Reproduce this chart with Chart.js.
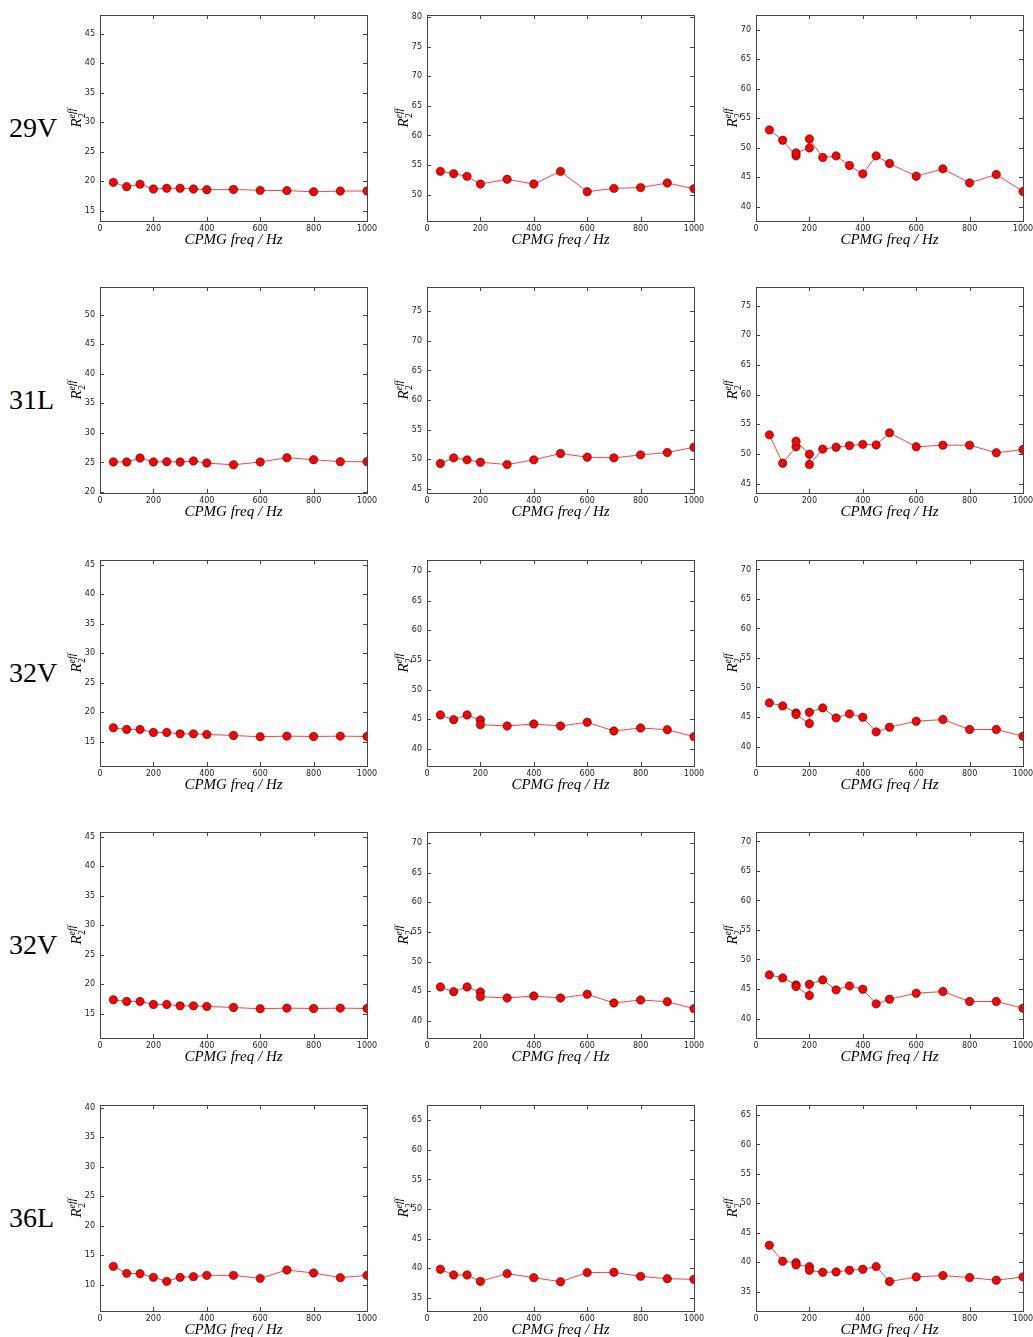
<!DOCTYPE html>
<html>
<head>
<meta charset="utf-8">
<script src="https://cdn.jsdelivr.net/npm/chart.js@4"></script>
<style>
  html, body { margin: 0; padding: 0; background: #fff; }
  #fig { position: relative; width: 1033px; height: 1337px; overflow: hidden; }
  #fig canvas { position: absolute; }
  .rowlab { position: absolute; left: 9px; font-family: "Liberation Serif", serif; font-size: 28px; color: #000; line-height: 1; }
</style>
</head>
<body>
<div id="fig"></div>
<script>
// x values (CPMG frequency, Hz)
const freqA = [50, 100, 150, 200, 250, 300, 350, 400, 500, 600, 700, 800, 900, 1000];
const freqB = [50, 100, 150, 200, 300, 400, 500, 600, 700, 800, 900, 1000];
const freqC = [50, 100, 150, 150, 200, 200, 250, 300, 350, 400, 450, 500, 600, 700, 800, 900, 1000];
const freqD = [50, 100, 150, 200, 200, 300, 400, 500, 600, 700, 800, 900, 1000];

// R2eff values
const r29V_1 = [19.8, 19.07, 19.5, 18.67, 18.8, 18.8, 18.67, 18.56, 18.6, 18.45, 18.4, 18.2, 18.33, 18.33];
const r29V_2 = [53.94, 53.55, 53.1, 51.8, 52.6, 51.8, 53.94, 50.5, 51.07, 51.2, 51.97, 51.0];
const r29V_3 = [53.03, 51.28, 48.63, 49.14, 49.98, 51.5, 48.35, 48.63, 46.99, 45.58, 48.63, 47.33, 45.19, 46.43, 44.06, 45.47, 42.6];

const r31L_1 = [25.08, 25.08, 25.75, 25.08, 25.13, 25.08, 25.25, 24.9, 24.6, 25.08, 25.8, 25.47, 25.13, 25.13];
const r31L_2 = [49.28, 50.23, 49.9, 49.5, 49.1, 49.9, 50.97, 50.35, 50.23, 50.74, 51.13, 52.03];
const r31L_3 = [53.2, 48.43, 51.19, 52.15, 49.95, 48.2, 50.8, 51.13, 51.4, 51.6, 51.5, 53.55, 51.19, 51.47, 51.47, 50.18, 50.74];

const r32V_1 = [17.37, 17.09, 17.09, 16.58, 16.58, 16.35, 16.35, 16.24, 16.07, 15.85, 15.96, 15.9, 15.96, 15.9];
const r32V_2 = [45.7, 44.9, 45.7, 44.85, 44.06, 43.84, 44.17, 43.84, 44.46, 42.99, 43.5, 43.2, 42.03];
const r32V_3 = [47.39, 46.88, 45.7, 45.41, 43.9, 45.8, 46.54, 44.85, 45.53, 44.96, 42.48, 43.27, 44.29, 44.57, 42.88, 42.88, 41.75];

const r36L_1 = [13.1, 11.92, 11.86, 11.24, 10.56, 11.24, 11.36, 11.58, 11.58, 11.07, 12.49, 11.98, 11.19, 11.58];
const r36L_2 = [39.8, 38.84, 38.84, 37.76, 39.06, 38.38, 37.7, 39.23, 39.29, 38.6, 38.2, 38.1];
const r36L_3 = [42.87, 40.15, 39.92, 39.53, 39.24, 38.62, 38.28, 38.34, 38.62, 38.79, 39.24, 36.7, 37.49, 37.72, 37.38, 36.92, 37.49];

// axis limits
const xTicks = [0, 200, 400, 600, 800, 1000];
const yStep = 5;
const ylim29V = [[13.25, 48.2], [45.56, 80.34], [37.6, 72.5]];
const ylim31L = [[19.83, 54.7], [44.3, 79.1], [43.4, 78.15]];
const ylim32V = [[10.9, 45.8], [37.07, 71.9], [36.7, 71.6]];
const ylim36L = [[5.54, 40.45], [32.74, 67.6], [31.7, 66.7]];

const rows = [
    { label: "29V", x: [freqA, freqB, freqC], y: [r29V_1, r29V_2, r29V_3], lim: ylim29V },
    { label: "31L", x: [freqA, freqB, freqC], y: [r31L_1, r31L_2, r31L_3], lim: ylim31L },
    { label: "32V", x: [freqA, freqD, freqC], y: [r32V_1, r32V_2, r32V_3], lim: ylim32V },
    { label: "32V", x: [freqA, freqD, freqC], y: [r32V_1, r32V_2, r32V_3], lim: ylim32V },
    { label: "36L", x: [freqA, freqB, freqC], y: [r36L_1, r36L_2, r36L_3], lim: ylim36L },
];

// page layout (plot areas)
const colLeft = [99.7, 427.3, 756.3];
const rowTop = [14.7, 287.2, 559.7, 832.2, 1104.7];
const plotW = 266.6, plotH = 206;
const padL = 40, padT = 6, padR = 11, padB = 32;

// frame + inward ticks on all four sides
const frame = {
    id: "frame",
    afterDraw(chart) {
        const { ctx, chartArea: a, scales } = chart;
        ctx.save();
        ctx.strokeStyle = "#444";
        ctx.lineWidth = 1;
        ctx.beginPath();
        scales.x.ticks.forEach(t => {
            const px = Math.round(scales.x.getPixelForValue(t.value)) + 0.5;
            ctx.moveTo(px, a.bottom); ctx.lineTo(px, a.bottom - 4);
            ctx.moveTo(px, a.top); ctx.lineTo(px, a.top + 4);
        });
        scales.y.ticks.forEach(t => {
            const py = Math.round(scales.y.getPixelForValue(t.value)) + 0.5;
            ctx.moveTo(a.left, py); ctx.lineTo(a.left + 4, py);
            ctx.moveTo(a.right, py); ctx.lineTo(a.right - 4, py);
        });
        ctx.stroke();
        ctx.strokeRect(Math.round(a.left) + 0.5, Math.round(a.top) + 0.5,
            Math.round(a.right - a.left), Math.round(a.bottom - a.top));
        ctx.restore();
    },
};

// R_2^{eff} rotated y title
const yTitle = {
    id: "yTitle",
    afterDraw(chart) {
        const { ctx, chartArea: a } = chart;
        ctx.save();
        ctx.translate(a.left - 24, (a.top + a.bottom) / 2);
        ctx.rotate(-Math.PI / 2);
        ctx.fillStyle = "#000";
        ctx.textBaseline = "alphabetic";
        ctx.font = 'italic 15px "Liberation Serif"';
        const wR = ctx.measureText("R").width;
        ctx.font = 'italic 10px "Liberation Serif"';
        const wE = ctx.measureText("eff").width;
        const x0 = -(wR + wE) / 2;
        ctx.font = 'italic 15px "Liberation Serif"';
        ctx.fillText("R", x0, 5);
        ctx.font = '10px "Liberation Serif"';
        ctx.fillText("2", x0 + wR + 0.5, 9);
        ctx.font = 'italic 10px "Liberation Serif"';
        ctx.fillText("eff", x0 + wR, -1);
        ctx.restore();
    },
};

const fig = document.getElementById("fig");

rows.forEach((row, r) => {
    const lab = document.createElement("div");
    lab.className = "rowlab";
    lab.textContent = row.label;
    lab.style.top = (rowTop[r] + plotH / 2 - 4) + "px";
    fig.appendChild(lab);

    for (let c = 0; c < 3; c++) {
        const cv = document.createElement("canvas");
        const w = Math.round(padL + plotW + padR);
        const h = Math.round(padT + plotH + padB);
        cv.width = w;
        cv.height = h;
        cv.style.left = (colLeft[c] - padL) + "px";
        cv.style.top = (rowTop[r] - padT) + "px";
        cv.style.width = w + "px";
        cv.style.height = h + "px";
        fig.appendChild(cv);

        const xs = row.x[c], ys = row.y[c];
        const [ymin, ymax] = row.lim[c];

        new Chart(cv, {
            type: "line",
            data: {
                datasets: [
                    {
                        data: xs.map((x, i) => ({ x: x, y: ys[i] })),
                        borderColor: "rgba(255,0,0,0.75)",
                        borderWidth: 1,
                        tension: 0,
                        pointRadius: 4.2,
                        pointBackgroundColor: "#ff0000",
                        pointBorderColor: "#000",
                        pointBorderWidth: 0.5,
                        clip: 0,
                    },
                ],
            },
            options: {
                responsive: false,
                animation: false,
                events: [],
                layout: { padding: { top: padT, right: padR, left: 0, bottom: 0 } },
                plugins: {
                    legend: { display: false },
                    tooltip: { enabled: false },
                },
                scales: {
                    x: {
                        type: "linear",
                        min: 0,
                        max: 1000,
                        afterBuildTicks: s => { s.ticks = xTicks.map(v => ({ value: v })); },
                        afterFit: s => {
                            s.height = padB;
                            s.paddingLeft = 0;
                            s.paddingRight = 0;
                        },
                        grid: { display: false, drawTicks: false },
                        border: { display: false },
                        ticks: {
                            color: "#222",
                            padding: 3,
                            maxRotation: 0,
                            autoSkip: false,
                            font: { family: "DejaVu Sans", size: 8 },
                            callback: v => String(v),
                        },
                        title: {
                            display: true,
                            text: "CPMG freq / Hz",
                            color: "#000",
                            font: { family: "Liberation Serif", style: "italic", size: 15 },
                            padding: { top: 0, bottom: 4 },
                        },
                    },
                    y: {
                        type: "linear",
                        min: ymin,
                        max: ymax,
                        afterBuildTicks: s => {
                            const t = [];
                            for (let v = Math.ceil(ymin / yStep) * yStep; v <= ymax; v += yStep) t.push({ value: v });
                            s.ticks = t;
                        },
                        afterFit: s => {
                            s.width = padL;
                            s.paddingTop = 0;
                            s.paddingBottom = 0;
                        },
                        grid: { display: false, drawTicks: false },
                        border: { display: false },
                        ticks: {
                            color: "#222",
                            padding: 5,
                            autoSkip: false,
                            font: { family: "DejaVu Sans", size: 8 },
                            callback: v => String(v),
                        },
                    },
                },
            },
            plugins: [frame, yTitle],
        });
    }
});
</script>
</body>
</html>
